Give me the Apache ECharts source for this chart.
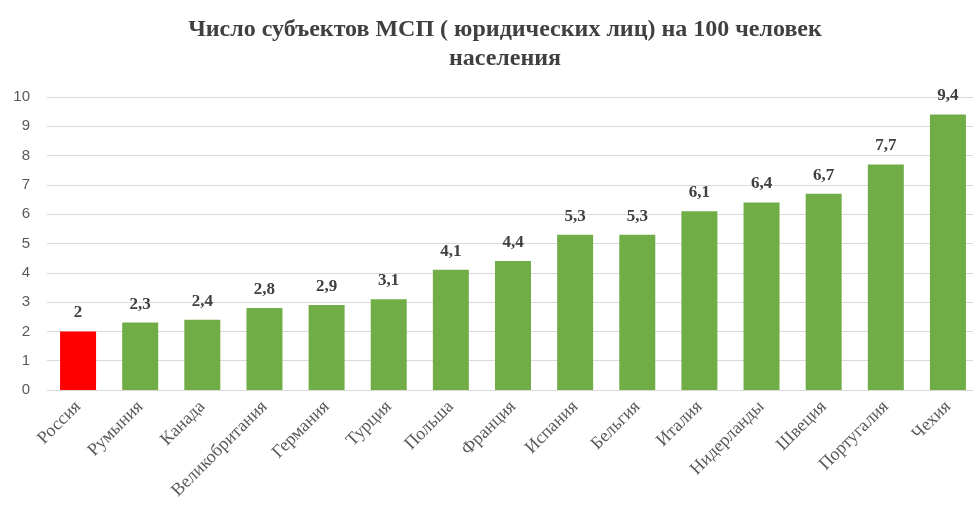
<!DOCTYPE html>
<html>
<head>
<meta charset="utf-8">
<script src="https://cdn.jsdelivr.net/npm/echarts@6/dist/echarts.min.js"></script>
<style>
  html, body { margin: 0; padding: 0; background: #fff; }
  #chart { width: 973px; height: 523px; }
</style>
</head>
<body>
<div id="chart"></div>
<script>
const countries = ['Россия', 'Румыния', 'Канада', 'Великобритания', 'Германия', 'Турция', 'Польша',
  'Франция', 'Испания', 'Бельгия', 'Италия', 'Нидерланды', 'Швеция', 'Португалия', 'Чехия']
const values = [2, 2.3, 2.4, 2.8, 2.9, 3.1, 4.1, 4.4, 5.3, 5.3, 6.1, 6.4, 6.7, 7.7, 9.4]
const highlight = 'Россия'

const chart = echarts.init(document.getElementById('chart'))
chart.setOption({
  animation: false,
  title: {
    text: 'Число субъектов МСП ( юридических лиц) на 100 человек\nнаселения',
    left: 500,
    top: 10,
    textAlign: 'center',
    textStyle: {
      fontFamily: 'Liberation Serif',
      fontWeight: 'bold',
      fontSize: 24,
      lineHeight: 29,
      color: '#404040'
    }
  },
  grid: { left: 47, top: 97, width: 932, height: 293, outerBoundsMode: 'none' },
  xAxis: {
    type: 'category',
    data: countries,
    axisLine: { show: true, lineStyle: { color: '#d9d9d9' } },
    axisTick: { show: false },
    axisLabel: {
      rotate: 45,
      interval: 0,
      margin: 14,
      fontFamily: 'Liberation Serif',
      fontSize: 18,
      color: '#595959'
    }
  },
  yAxis: {
    type: 'value',
    min: 0,
    max: 10,
    interval: 1,
    axisLine: { show: false },
    axisTick: { show: false },
    axisLabel: { fontFamily: 'Liberation Sans', fontSize: 15, color: '#595959', margin: 17 },
    splitLine: { lineStyle: { color: '#d9d9d9', width: 1 } }
  },
  series: [{
    type: 'bar',
    barWidth: 36,
    data: values.map((v, i) => ({
      value: v,
      itemStyle: { color: countries[i] === highlight ? '#ff0000' : '#70ad47' }
    })),
    label: {
      show: true,
      position: 'top',
      distance: 10,
      fontFamily: 'Liberation Serif',
      fontWeight: 'bold',
      fontSize: 17,
      color: '#404040',
      formatter: p => String(p.value).replace('.', ',')
    }
  }]
})
</script>
</body>
</html>
